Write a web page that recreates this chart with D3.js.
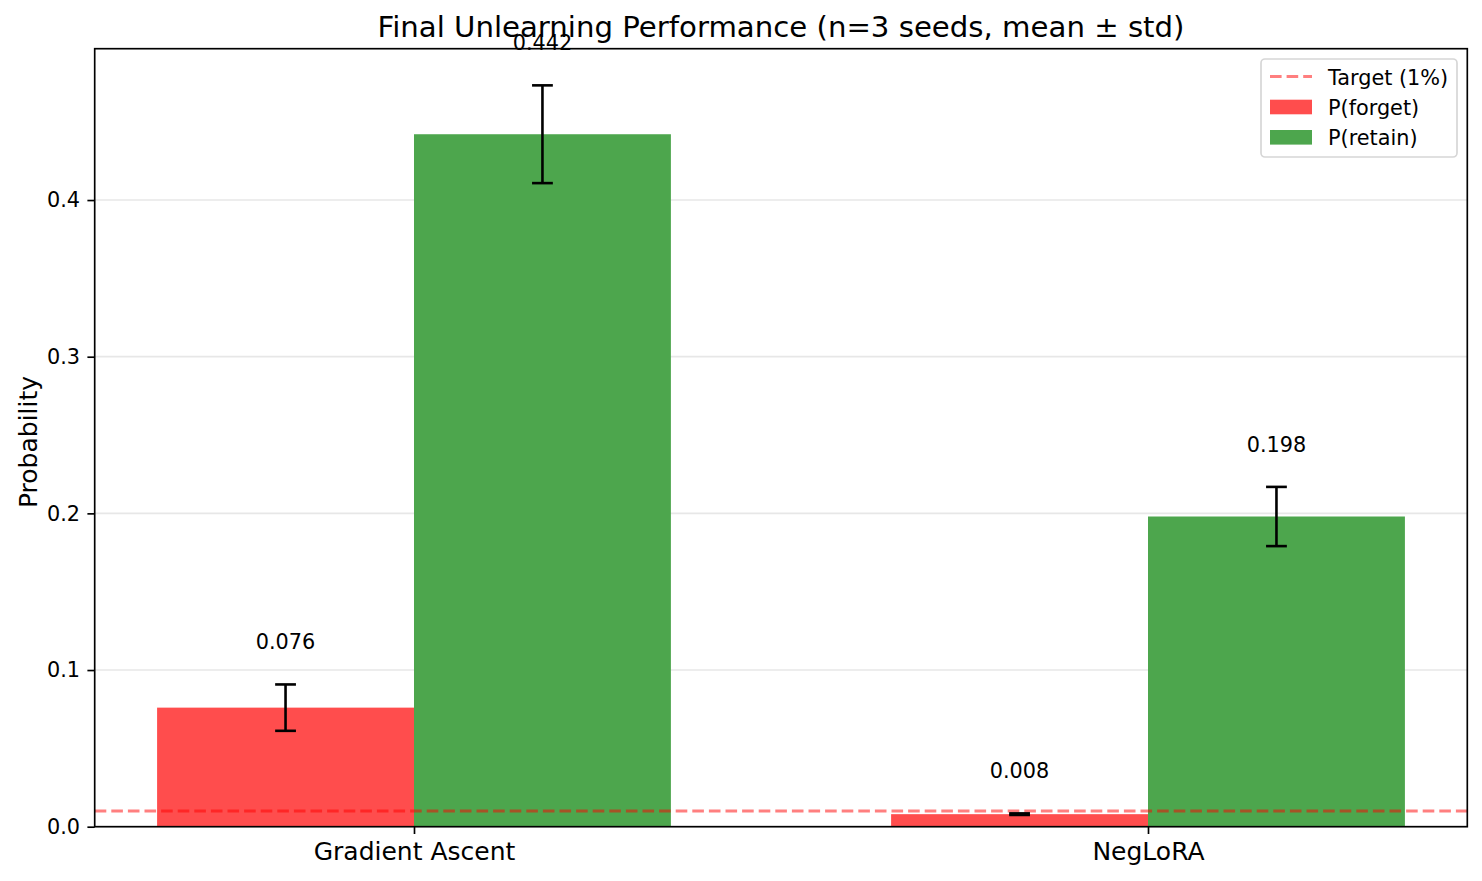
<!DOCTYPE html>
<html><head><meta charset="utf-8">
<script src="https://cdn.jsdelivr.net/npm/d3@7"></script>
<style>body{margin:0;background:#fff}svg{display:block;font-family:"DejaVu Sans",sans-serif}</style>
</head><body>
<svg id="c" width="1482" height="881"></svg>
<script>
const categories = ["Gradient Ascent", "NegLoRA"];
const series = ["P(forget)", "P(retain)"];
const forgetMean = [0.076, 0.008];
const forgetStd = [0.0148, 0.0005];
const retainMean = [0.442, 0.198];
const retainStd = [0.0312, 0.0189];
const yTicks = [0.0, 0.1, 0.2, 0.3, 0.4];
const targetValue = 0.01;
const colors = ["#ff4d4d", "#4da64d"];

const svg = d3.select("#c");
const L = 94.7, R = 1467.3, T = 48.7, B = 826.7;
const x = d3.scaleLinear().domain([-0.435, 1.435]).range([L, R]);
const y = d3.scaleLinear().domain([0, 0.4966]).range([B, T]);
const barW = 0.35;

// grid
svg.append("g").selectAll("line").data(yTicks).join("line")
  .attr("x1", L).attr("x2", R).attr("y1", d => y(d)).attr("y2", d => y(d))
  .attr("stroke", "#b0b0b0").attr("stroke-opacity", 0.3).attr("stroke-width", 1.67);

const rows = [];
categories.forEach((c, i) => {
  rows.push({s: 0, i, m: forgetMean[i], sd: forgetStd[i], cx: i - barW / 2});
  rows.push({s: 1, i, m: retainMean[i], sd: retainStd[i], cx: i + barW / 2});
});

// bars
svg.append("g").selectAll("rect").data(rows).join("rect")
  .attr("x", d => x(d.cx - barW / 2)).attr("width", d => x(d.cx + barW / 2) - x(d.cx - barW / 2))
  .attr("y", d => y(d.m)).attr("height", d => y(0) - y(d.m))
  .attr("fill", d => colors[d.s]);

// target line
svg.append("line").attr("x1", L).attr("x2", R).attr("y1", y(targetValue)).attr("y2", y(targetValue))
  .attr("stroke", "#ff0000").attr("stroke-opacity", 0.5).attr("stroke-width", 3.1)
  .attr("stroke-dasharray", "11.6,5");

// error bars
const eg = svg.append("g").attr("stroke", "#000").attr("stroke-width", 2.6);
rows.forEach(d => {
  const cx = x(d.cx);
  eg.append("line").attr("x1", cx).attr("x2", cx).attr("y1", y(d.m - d.sd)).attr("y2", y(d.m + d.sd));
  [d.m - d.sd, d.m + d.sd].forEach(v => {
    eg.append("line").attr("x1", cx - 10.4).attr("x2", cx + 10.4).attr("y1", y(v)).attr("y2", y(v));
  });
});

// value labels
svg.append("g").selectAll("text").data(rows).join("text")
  .attr("x", d => x(d.cx)).attr("y", d => y(d.m + d.sd + 0.02) - 4)
  .attr("text-anchor", "middle").attr("font-size", 20.8).attr("fill", "#000")
  .text(d => d.m.toFixed(3));

// spines
svg.append("rect").attr("x", L).attr("y", T).attr("width", R - L).attr("height", B - T)
  .attr("fill", "none").attr("stroke", "#000").attr("stroke-width", 1.67);

// y axis
const ya = svg.append("g").attr("transform", `translate(${L},0)`)
  .call(d3.axisLeft(y).tickValues(yTicks).tickFormat(d3.format(".1f")).tickSize(7.3).tickPadding(7.3));
ya.select(".domain").remove();
ya.selectAll("line").attr("stroke", "#000").attr("stroke-width", 1.67);
ya.selectAll("text").attr("font-size", 20.8).attr("font-family", "DejaVu Sans").attr("fill", "#000");

// x axis
const xa = svg.append("g").attr("transform", `translate(0,${B})`)
  .call(d3.axisBottom(x).tickValues([0, 1]).tickFormat(d => categories[d]).tickSize(7.3).tickPadding(8.5));
xa.select(".domain").remove();
xa.selectAll("line").attr("stroke", "#000").attr("stroke-width", 1.67);
xa.selectAll("text").attr("font-size", 25).attr("font-family", "DejaVu Sans").attr("fill", "#000");

// title
svg.append("text").attr("x", (L + R) / 2).attr("y", 36.5).attr("text-anchor", "middle")
  .attr("font-size", 29.2).attr("fill", "#000")
  .text("Final Unlearning Performance (n=3 seeds, mean ± std)");

// y label
svg.append("text").attr("transform", `translate(36.5,442) rotate(-90)`)
  .attr("text-anchor", "middle").attr("font-size", 25).attr("fill", "#000").text("Probability");

// legend
const lg = svg.append("g");
lg.append("rect").attr("x", 1261).attr("y", 59).attr("width", 196).attr("height", 98).attr("rx", 4)
  .attr("fill", "#fff").attr("fill-opacity", 0.8).attr("stroke", "#d6d6d6").attr("stroke-width", 1.67);
lg.append("line").attr("x1", 1270).attr("x2", 1312).attr("y1", 76.5).attr("y2", 76.5)
  .attr("stroke", "#ff0000").attr("stroke-opacity", 0.5).attr("stroke-width", 3.1).attr("stroke-dasharray", "11.6,5");
const legendLabels = ["Target (1%)"].concat(series);
series.forEach((s, i) => {
  lg.append("rect").attr("x", 1270).attr("y", 107 + i * 30.3 - 7.3).attr("width", 42).attr("height", 14.6)
    .attr("fill", colors[i]);
});
legendLabels.forEach((t, i) => {
  lg.append("text").attr("x", 1328).attr("y", 84.5 + i * 30.3).attr("font-size", 20.8).attr("fill", "#000").text(t);
});
</script>
</body></html>
